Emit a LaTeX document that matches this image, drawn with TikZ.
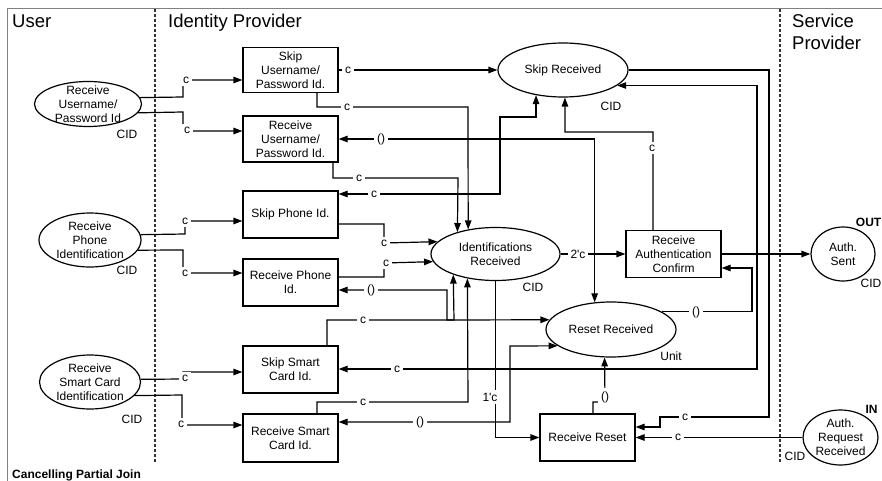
\documentclass[tikz,border=0pt]{standalone}
\usepackage{fontspec}
\setmainfont{Liberation Sans}
\usetikzlibrary{shapes.geometric, arrows.meta}

\tikzset{
  txt/.style={font=\fontsize{12}{14}\selectfont},
  trans/.style={txt, draw, rectangle, line width=1.2pt, minimum width=95pt,
    minimum height=47pt, inner sep=0pt, align=center},
  place/.style={draw, ellipse, line width=1.2pt, inner sep=0pt,
    label={[txt, align=center, inner sep=0pt]center:#1}},
  arc/.style={line width=1.2pt, -{Triangle[length=9pt, width=6.5pt]}},
  biarc/.style={line width=1.2pt, {Triangle[length=9pt, width=6.5pt]}-{Triangle[length=9pt, width=6.5pt]}},
  inscr/.style={txt, fill=white, inner xsep=3pt, inner ysep=3pt},
  note/.style={txt, inner sep=0pt},
  title/.style={font=\fontsize{18.5}{22}\selectfont, inner sep=0pt, anchor=base west},
  lane/.style={line width=1.2pt, black!80, dash pattern=on 3pt off 2pt},
}

\begin{document}
\begin{tikzpicture}[x=1pt, y=-1pt]
\useasboundingbox (0,0) rectangle (882,481);

% outer frame and swimlanes
\draw[black!50, line width=1pt] (7,481) -- (7,9) -- (882,9);
\draw[lane] (155,9) -- (155,462);
\draw[lane] (780,9) -- (780,462);

\node[title] (hUser) at (12,28) {User};
\node[title] (hIdP) at (168,28) {Identity Provider};
\node[title] (hSP1) at (792,28) {Service};
\node[title] (hSP2) at (792,50) {Provider};

% places of the user
\node[place={Receive\\Username/\\Password Id}, minimum width=107pt, minimum height=45pt] (uUP) at (88,104) {};
\node[place={Receive\\Phone\\Identification}, minimum width=102pt, minimum height=54pt] (uPh) at (90,240) {};
\node[place={Receive\\Smart Card\\Identification}, minimum width=101pt, minimum height=54pt] (uSC) at (90,382) {};

% transitions of the identity provider
\node[trans, minimum height=45pt] (tSU) at (290.5,70) {Skip\\Username/\\Password Id.};
\node[trans, minimum height=46pt] (tRU) at (290.5,139) {Receive\\Username/\\Password Id.};
\node[trans] (tSP) at (290.5,214.5) {Skip Phone Id.};
\node[trans] (tRP) at (290.5,282.5) {Receive Phone\\Id.};
\node[trans] (tSS) at (290.5,369.5) {Skip Smart\\Card Id.};
\node[trans, minimum height=48pt] (tRS) at (290.5,438) {Receive Smart\\Card Id.};
\node[trans] (tAC) at (673.5,254) {Receive\\Authentication\\Confirm};
\node[trans] (tRR) at (587.5,437.5) {Receive Reset};

% places of the identity provider
\node[place={Skip Received}, minimum width=130pt, minimum height=54pt] (pSR) at (563,70) {};
\node[place={Identifications\\Received}, minimum width=129pt, minimum height=53pt] (pIR) at (495.5,254) {};
\node[place={Reset Received}, minimum width=130pt, minimum height=55pt] (pRR) at (611,329.5) {};

% interface places of the service provider
\node[place={Auth.\\Sent}, minimum width=64pt, minimum height=54pt] (pAS) at (843,254) {};
\node[place={Auth.\\Request\\Received}, minimum width=75pt, minimum height=55pt] (pAR) at (840.5,437.5) {};

% colour sets and port tags
\node[note] (cs1) at (127,134) {CID};
\node[note] (cs2) at (127,270) {CID};
\node[note] (cs3) at (132,419) {CID};
\node[note] (cs4) at (611,106) {CID};
\node[note] (cs5) at (533,287) {CID};
\node[note] (cs6) at (671,356) {Unit};
\node[note, anchor=east] (cs7) at (881.5,283) {CID};
\node[note] (cs8) at (795,456) {CID};
\node[note, font=\bfseries\fontsize{12}{14}\selectfont, anchor=east] (pOut) at (881.5,222) {OUT};
\node[note, font=\bfseries\fontsize{12}{14}\selectfont] (pIn) at (871.5,409.5) {IN};
\node[font=\bfseries\fontsize{12}{14}\selectfont, inner sep=0pt, anchor=base west] (cap) at (12,478) {Cancelling Partial Join};

% arcs from the user
\draw[arc] (uUP.7.8) -- (183,97) |- (tSU.west |- 0,80);
\draw[arc] (uUP.350.9) -- (183,112) |- (tRU.west |- 0,131);
\draw[arc] (uPh.6.9) -- (185,234) |- (tSP.west |- 0,221);
\draw[arc] (uPh.348.1) -- (183,250) |- (tRP.west |- 0,273);
\draw[arc] (uSC.3.4) -- (183,379) |- (tSS.west |- 0,372);
\draw[arc] (uSC.343.6) -- (182,395) |- (tRS.west |- 0,425);

% arcs inside the identity provider
\draw[arc] (tSU.east) -- (pSR.west);
\draw[arc] (tSU.south -| 317,0) |- (468,107) -- (pIR.138.9);
\draw[arc] (tRU.south -| 333,0) |- (458,178) -- (pIR.150.1);
\draw[biarc] (tRU.east |- 0,139) -| (pRR.121.0);
\draw[biarc] (tSP.east |- 0,194) -| (500,117) -| (pSR.223.5);
\draw[biarc] (pSR.344.5) -| (757,369) -- (tSS.east |- 0,369);
\draw[arc] (pSR.east) -| (769,417) -| (660,427) -- (tRR.east |- 0,427);
\draw[arc] (pAR.west) -- (tRR.east);
\draw[arc] (tAC.north -| 653,0) |- (565,132) -- (pSR.274.2);
\draw[arc] (pIR.east) -- (tAC.west);
\draw[arc] (tAC.east) -- (pAS.west);
\draw[arc] (pRR.19.3) -| (752,268) -- (tAC.east |- 0,268);
\draw[arc] (tRR.north -| 593,0) |- (605,402) -- (pRR.257.6);
\draw[arc] (pIR.south) |- (tRR.west);
\draw[arc] (tSS.north -| 327,0) |- (454,320) -- (pIR.206.1);
\draw[arc] (tRS.north -| 317,0) |- (468,402) -- (pIR.221.1);
\draw[biarc] (tRP.east |- 0,290) -| (447,320) -- (pRR.171.15);
\draw[biarc] (tRS.east |- 0,422) -| (510,346) -- (pRR.197.6);
\draw[arc] (tSP.east |- 0,224) -| (384,243) -- (pIR.168.8);
\draw[arc] (tRP.east |- 0,277) -| (384,263) -- (pIR.187.9);

% arc inscriptions
\node[inscr] (i1) at (186,80) {c};
\node[inscr] (i2) at (187,130) {c};
\node[inscr] (i3) at (185,221) {c};
\node[inscr] (i4) at (185,273) {c};
\node[inscr] (i5) at (185,378) {c};
\node[inscr] (i6) at (181,424) {c};
\node[inscr] (i7) at (348,70) {c};
\node[inscr] (i8) at (347,107) {c};
\node[inscr] (i9) at (359,178) {c};
\node[inscr] (i10) at (381,139) {()};
\node[inscr] (i11) at (374,194) {c};
\node[inscr] (i12) at (397,369) {c};
\node[inscr] (i13) at (685,417) {c};
\node[inscr] (i14) at (678,437.5) {c};
\node[inscr] (i15) at (652,148) {c};
\node[inscr] (i16) at (578,254) {2\textquotesingle c};
\node[inscr] (i17) at (696,312) {()};
\node[inscr] (i18) at (605,397) {()};
\node[inscr] (i19) at (490,397) {1\textquotesingle c};
\node[inscr] (i20) at (363,320) {c};
\node[inscr] (i21) at (363,402) {c};
\node[inscr] (i22) at (371,290) {()};
\node[inscr] (i23) at (420,422) {()};
\node[inscr] (i24) at (384,243) {c};
\node[inscr] (i25) at (386,263) {c};
\end{tikzpicture}
\end{document}
